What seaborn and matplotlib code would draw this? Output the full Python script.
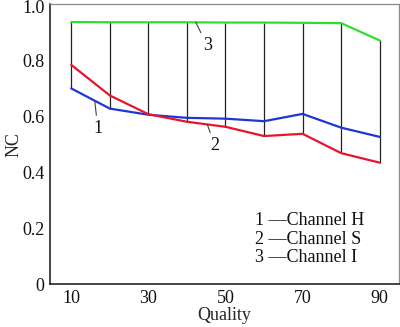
import numpy as np
import pandas as pd
import matplotlib
matplotlib.use("Agg")
import matplotlib.pyplot as plt
import matplotlib.transforms as mtransforms
import seaborn as sns

quality = [10, 20, 30, 40, 50, 60, 70, 80, 90]
channel_h = [0.699, 0.627, 0.605, 0.594, 0.591, 0.582, 0.608, 0.559, 0.526]
channel_s = [0.783, 0.674, 0.607, 0.580, 0.562, 0.529, 0.537, 0.468, 0.434]
channel_i = [0.936, 0.935, 0.935, 0.935, 0.934, 0.934, 0.933, 0.932, 0.870]
series_names = ["Channel H", "Channel S", "Channel I"]
series_colors = ["#1f35d8", "#e8142e", "#2ee02e"]
x_ticks = [10, 30, 50, 70, 90]
y_ticks = [0, 0.2, 0.4, 0.6, 0.8, 1.0]
y_tick_labels = ["0", "0.2", "0.4", "0.6", "0.8", "1.0"]

sns.set_theme(style="white")
plt.rcParams["font.family"] = ["Liberation Serif", "DejaVu Serif"]

df = pd.DataFrame({
    "Quality": quality * 3,
    "NC": channel_h + channel_s + channel_i,
    "Channel": sum([[n] * len(quality) for n in series_names], []),
})

fig = plt.figure(figsize=(4.0, 3.27), dpi=100)
ax = fig.add_axes([0.125, 0.1306, 0.8725, 0.857])

# vertical connectors between the lowest curve and the top curve
lows = np.minimum(channel_h, channel_s)
ax.vlines(quality, lows, channel_i, colors="#222222", linewidth=0.9, zorder=1)

sns.lineplot(data=df, x="Quality", y="NC", hue="Channel",
             palette=dict(zip(series_names, series_colors)),
             linewidth=1.6, legend=False, ax=ax, zorder=2)

ax.set_xlim(4.5, 95)
ax.set_ylim(0, 1.0)
ax.set_xticks(x_ticks)
ax.set_yticks(y_ticks)
ax.set_yticklabels(y_tick_labels)
ax.tick_params(direction="in", length=6, width=1, colors="#111111",
               labelsize=13, pad=4)
ax.set_xlabel("Quality", fontsize=13, labelpad=0)
ax.set_ylabel("NC", fontsize=13, labelpad=0)

# keep the top tick label inside the canvas
top_label = ax.get_yticklabels()[-1]
top_label.set_transform(top_label.get_transform() +
                        mtransforms.ScaledTranslation(0, -2 / 72, fig.dpi_scale_trans))

for side in ["left", "bottom"]:
    ax.spines[side].set_color("#111111")
    ax.spines[side].set_linewidth(1.1)
for side in ["top", "right"]:
    ax.spines[side].set_color("#888888")
    ax.spines[side].set_linewidth(0.9)

# numbered curve labels with leader lines
callouts = [
    ("1", 16.1, channel_h, 16.9, 0.556),
    ("2", 45.3, channel_s, 47.2, 0.494),
    ("3", 42.3, channel_i, 45.3, 0.851),
]
for text, ax_x, ys, tx, ty in callouts:
    ay = np.interp(ax_x, quality, ys)
    ax.annotate(text, xy=(ax_x, ay), xytext=(tx, ty), fontsize=13,
                ha="center", va="center", color="#111111",
                arrowprops=dict(arrowstyle="-", color="#444444", lw=0.8,
                                shrinkA=1, shrinkB=0))

legend_lines = ["1 \u2014Channel H", "2 \u2014Channel S", "3 \u2014Channel I"]
for i, line in enumerate(legend_lines):
    ax.text(0.587, 0.226 - i * 0.066, line, transform=ax.transAxes,
            fontsize=13, ha="left", va="center", color="#111111")

fig.savefig("out.png", dpi=100)
